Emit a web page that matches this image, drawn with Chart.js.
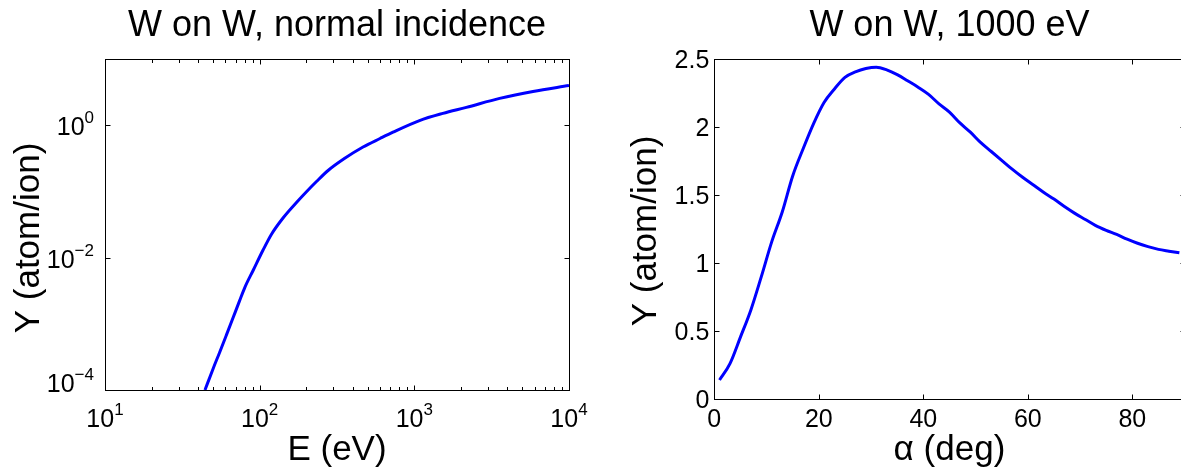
<!DOCTYPE html>
<html lang="en">
<head>
    <meta charset="UTF-8">
    <title>W on W sputtering yield</title>
    <style>
        html, body {
            margin: 0;
            padding: 0;
            background-color: #ffffff;
            overflow: hidden;
        }
        body {
            width: 1181px;
            height: 467px;
            position: relative;
        }
        #energyChart {
            position: absolute;
            left: 0;
            top: 0;
        }
        #angleChart {
            position: absolute;
            left: 600px;
            top: 0;
        }
    </style>
</head>
<body>
    <canvas id="energyChart" width="600" height="467"></canvas>
    <canvas id="angleChart" width="600" height="467"></canvas>

    <script src="https://cdn.jsdelivr.net/npm/chart.js@4/dist/chart.umd.min.js"></script>
    <script>
        // left panel: yield against energy, normal incidence
        const energyEV = [44.3, 50, 55, 61, 67, 74, 80, 91, 105, 119, 142, 173, 200, 233, 277, 355, 466, 600, 728, 1080, 1530, 2170, 3560, 5850, 10000];
        const yieldByEnergy = [1.0e-4, 2.1e-4, 3.66e-4, 6.8e-4, 1.2e-3, 2.2e-3, 3.5e-3, 6.5e-3, 0.0129, 0.0224, 0.040, 0.068, 0.098, 0.141, 0.207, 0.316, 0.468, 0.63, 0.785, 1.175, 1.51, 1.86, 2.54, 3.24, 3.98];
        const energyTickExp = [1, 2, 3, 4];
        const yieldTickExp = [-4, -2, 0];

        // right panel: yield against angle, 1000 eV
        const angleDeg = [1, 3, 5, 7, 9, 11, 13, 15, 17, 19, 21, 23, 25, 27, 29, 31, 33, 35, 37, 39, 41, 43, 45, 47, 49, 51, 53, 55, 57, 59, 61, 63, 65, 67, 69, 71, 73, 75, 77, 79, 81, 83, 85, 87, 89];
        const yieldByAngle = [0.14, 0.26, 0.455, 0.655, 0.90, 1.157, 1.375, 1.64, 1.84, 2.025, 2.18, 2.28, 2.365, 2.405, 2.43, 2.44, 2.42, 2.385, 2.34, 2.293, 2.24, 2.17, 2.11, 2.03, 1.962, 1.885, 1.82, 1.755, 1.69, 1.63, 1.575, 1.52, 1.47, 1.415, 1.365, 1.32, 1.275, 1.24, 1.21, 1.175, 1.145, 1.12, 1.10, 1.087, 1.075];
        const angleTicks = [0, 20, 40, 60, 80];
        const yieldTicks = [0, 0.5, 1, 1.5, 2, 2.5];

        const FONT = "'Liberation Sans', Arial, Helvetica, sans-serif";
        const TICK_SIZE = 25;
        const SUP_SIZE = 17;
        const LABEL_SIZE = 35;

        function crisp(v) {
            return Math.round(v) + 0.5;
        }

        function drawPower(ctx, exp, x, y, align) {
            const sup = exp < 0 ? '\u2212' + (-exp) : String(exp);
            ctx.font = TICK_SIZE + 'px ' + FONT;
            const wb = ctx.measureText('10').width;
            ctx.font = SUP_SIZE + 'px ' + FONT;
            const ws = ctx.measureText(sup).width;
            const x0 = align === 'right' ? x - wb - ws : x - (wb + ws) / 2;
            ctx.textAlign = 'left';
            ctx.textBaseline = 'alphabetic';
            ctx.font = TICK_SIZE + 'px ' + FONT;
            ctx.fillText('10', x0, y);
            ctx.font = SUP_SIZE + 'px ' + FONT;
            ctx.fillText(sup, x0 + wb, y - 12);
        }

        // box with inward ticks on all four sides, labels and axis titles
        const matlabAxes = {
            id: 'matlabAxes',
            afterDraw(chart, args, o) {
                const ctx = chart.ctx;
                const a = chart.chartArea;
                const xs = chart.scales.x;
                const ys = chart.scales.y;
                const L = crisp(a.left), R = crisp(a.right), T = crisp(a.top), B = crisp(a.bottom);
                ctx.save();
                ctx.strokeStyle = '#000';
                ctx.fillStyle = '#000';
                ctx.lineWidth = 1;
                ctx.beginPath();
                o.xMajor.forEach(v => {
                    const p = crisp(xs.getPixelForValue(v));
                    ctx.moveTo(p, B); ctx.lineTo(p, B - 5);
                    ctx.moveTo(p, T); ctx.lineTo(p, T + 5);
                });
                (o.xMinor || []).forEach(v => {
                    const p = crisp(xs.getPixelForValue(v));
                    ctx.moveTo(p, B); ctx.lineTo(p, B - 3.5);
                    ctx.moveTo(p, T); ctx.lineTo(p, T + 3.5);
                });
                o.yMajor.forEach(v => {
                    const p = crisp(ys.getPixelForValue(v));
                    ctx.moveTo(L, p); ctx.lineTo(L + 5, p);
                    ctx.moveTo(R, p); ctx.lineTo(R - 5, p);
                });
                ctx.stroke();
                ctx.strokeRect(L, T, R - L, B - T);

                // tick labels
                if (o.log) {
                    energyTickExp.forEach(e => {
                        drawPower(ctx, e, xs.getPixelForValue(Math.pow(10, e)), 427, 'center');
                    });
                    yieldTickExp.forEach(e => {
                        const p = ys.getPixelForValue(Math.pow(10, e));
                        drawPower(ctx, e, a.left - 11, Math.min(p + 10, a.bottom + 2), 'right');
                    });
                } else {
                    ctx.font = TICK_SIZE + 'px ' + FONT;
                    ctx.textBaseline = 'alphabetic';
                    ctx.textAlign = 'center';
                    o.xMajor.forEach(v => ctx.fillText(String(v), xs.getPixelForValue(v), 427));
                    ctx.textAlign = 'right';
                    o.yMajor.forEach(v => ctx.fillText(String(v), a.left - 5, ys.getPixelForValue(v) + 9));
                }

                // axis titles
                ctx.font = LABEL_SIZE + 'px ' + FONT;
                ctx.textAlign = 'center';
                ctx.textBaseline = 'alphabetic';
                ctx.fillText(o.xTitle, (a.left + a.right) / 2, 460);
                ctx.translate(o.yTitleX, o.yTitleY);
                ctx.rotate(-Math.PI / 2);
                ctx.textBaseline = 'middle';
                ctx.fillText(o.yTitle, 0, 0);
                ctx.restore();
            }
        };

        function titleOptions(text) {
            return {
                display: true,
                text: text,
                color: '#000',
                font: { family: FONT, size: 36, weight: 'normal', lineHeight: 1.2 },
                padding: { top: 4.4, bottom: 11.4 }
            };
        }

        // minor ticks of the energy axis: 2..9 in each decade
        const energyMinor = [];
        [10, 100, 1000].forEach(d => {
            for (let k = 2; k <= 9; k++) energyMinor.push(d * k);
        });

        new Chart(document.getElementById('energyChart'), {
            type: 'line',
            data: {
                datasets: [{
                    data: energyEV.map((e, i) => ({ x: e, y: yieldByEnergy[i] })),
                    borderColor: '#0000ff',
                    borderWidth: 3,
                    pointRadius: 0,
                    cubicInterpolationMode: 'monotone'
                }]
            },
            options: {
                responsive: false,
                animation: false,
                events: [],
                layout: { padding: { left: 105, right: 31, top: 0, bottom: 77 } },
                scales: {
                    x: { type: 'logarithmic', min: 10, max: 10000, display: false },
                    y: { type: 'logarithmic', min: 1e-4, max: 10, display: false }
                },
                plugins: {
                    legend: { display: false },
                    tooltip: { enabled: false },
                    title: titleOptions('W on W, normal incidence'),
                    matlabAxes: {
                        log: true,
                        xMajor: energyTickExp.map(e => Math.pow(10, e)),
                        xMinor: energyMinor,
                        yMajor: yieldTickExp.map(e => Math.pow(10, e)),
                        xTitle: 'E (eV)',
                        yTitle: 'Y (atom/ion)',
                        yTitleX: 29,
                        yTitleY: 238
                    }
                }
            },
            plugins: [matlabAxes]
        });

        new Chart(document.getElementById('angleChart'), {
            type: 'line',
            data: {
                datasets: [{
                    data: angleDeg.map((d, i) => ({ x: d, y: yieldByAngle[i] })),
                    borderColor: '#0000ff',
                    borderWidth: 3,
                    pointRadius: 0,
                    cubicInterpolationMode: 'monotone'
                }]
            },
            options: {
                responsive: false,
                animation: false,
                events: [],
                layout: { padding: { left: 114.3, right: 15.4, top: 0, bottom: 68 } },
                scales: {
                    x: { type: 'linear', min: 0, max: 90, display: false },
                    y: { type: 'linear', min: 0, max: 2.5, display: false }
                },
                plugins: {
                    legend: { display: false },
                    tooltip: { enabled: false },
                    title: titleOptions('W on W, 1000 eV'),
                    matlabAxes: {
                        log: false,
                        xMajor: angleTicks,
                        yMajor: yieldTicks,
                        xTitle: '\u03b1 (deg)',
                        yTitle: 'Y (atom/ion)',
                        yTitleX: 46,
                        yTitleY: 231
                    }
                }
            },
            plugins: [matlabAxes]
        });
    </script>
</body>
</html>
